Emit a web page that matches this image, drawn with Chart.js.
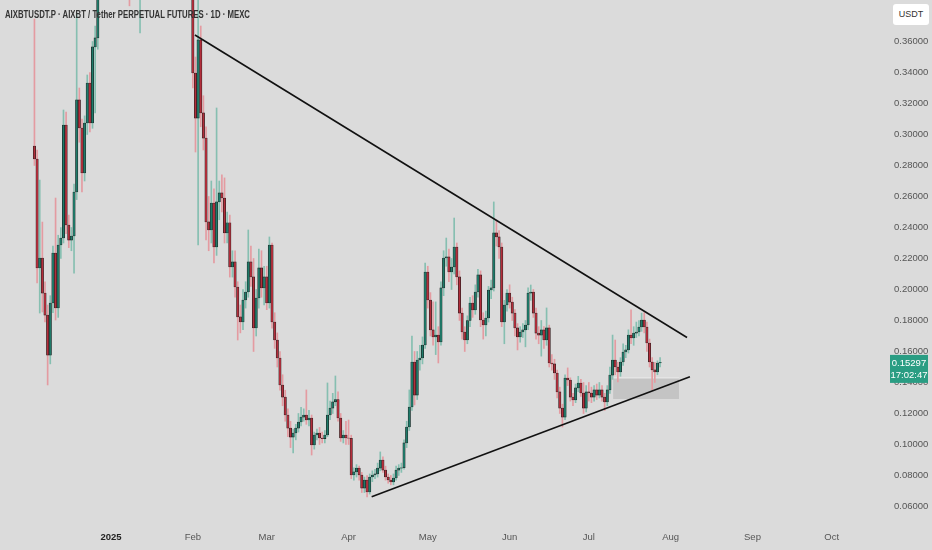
<!DOCTYPE html>
<html>
<head>
<meta charset="utf-8">
<title>AIXBTUSDT.P 1D</title>
<script src="https://cdn.jsdelivr.net/npm/chart.js@4.4.1/dist/chart.umd.min.js"></script>
<style>
  html, body { margin: 0; padding: 0; background: #dbdbdb; }
  #wrap { position: relative; width: 932px; height: 550px; }
  #title { position: absolute; left: 5px; top: 8px; font: bold 10.5px 'Liberation Sans', sans-serif; color: #333; white-space: nowrap; transform-origin: 0 0; }
  #unit { position: absolute; left: 893px; top: 4px; width: 36px; height: 21px; background: #fff; border-radius: 3px; font: 9px 'Liberation Sans', sans-serif; color: #333; text-align: center; line-height: 21px; }
</style>
</head>
<body>
<div id="wrap">
  <canvas id="priceChart"></canvas>
  <div id="title">AIXBTUSDT.P · AIXBT / Tether PERPETUAL FUTURES · 1D · MEXC</div>
  <div id="unit">USDT</div>
</div>

<script>
  // day numbers are counted from 1 Jan 2025 (0 = Jan 1)
  const firstDay = -29

  // daily candles, one value per day, Dec 2024 .. 28 Jul 2025
  const opens = [
    // Dec
    0.2926,0.2842,0.2139,0.2203,0.1977,0.1835,0.1577,0.1913,0.2235,0.1881,0.2287,0.2332,0.3061,0.2416,0.2319,0.2345,0.2629,0.3223,0.3042,0.2752,0.3074,0.3332,0.3074,0.3565,0.3623,
    // Jan (mostly above the visible range)
    0.420,0.465,0.505,0.520,0.540,0.585,0.625,0.660,0.640,0.580,0.520,0.470,0.440,0.500,0.480,0.440,0.470,0.540,0.630,0.760,0.880,0.800,0.760,0.680,0.600,0.640,0.620,0.580,0.560,0.540,0.500,0.460,0.480,0.470,0.450,
    // Feb
    0.4200,0.3397,0.3106,0.3610,0.3139,0.2977,0.2436,0.2384,0.2558,0.2274,0.2565,0.2623,0.2590,0.2365,0.2430,0.2145,0.2178,0.2016,0.1823,0.1790,0.1932,0.1984,0.2178,0.2081,0.1752,0.1945,0.2139,0.2010,
    // Mar
    0.2081,0.1913,0.2287,0.1790,0.1674,0.1558,0.1384,0.1306,0.1190,0.1106,0.1048,0.1074,0.1106,0.1145,0.1177,0.1190,0.1158,0.1171,0.0997,0.1061,0.1074,0.1042,0.1038,0.1061,0.1190,0.1235,0.1275,0.1290,0.1171,0.1042,0.1061,
    // Apr
    0.1042,0.1040,0.0803,0.0823,0.0848,0.0803,0.0719,0.0771,0.0694,0.0790,0.0803,0.0810,0.0848,0.0900,0.0835,0.0790,0.0771,0.0758,0.0784,0.0835,0.0848,0.0850,0.1010,0.1113,0.1242,0.1532,0.1319,0.1545,0.1558,0.1642,
    // May
    0.2113,0.1932,0.1739,0.1694,0.1706,0.1661,0.2010,0.2203,0.2210,0.2113,0.2145,0.2274,0.2081,0.1848,0.1726,0.1674,0.1800,0.1913,0.1868,0.1984,0.2094,0.1803,0.1771,0.1816,0.1997,0.2010,0.2365,0.2339,0.2274,0.1790,0.1900,
    // Jun
    0.1977,0.1919,0.1848,0.1752,0.1694,0.1726,0.1739,0.1771,0.1977,0.1984,0.1848,0.1719,0.1706,0.1739,0.1674,0.1752,0.1526,0.1520,0.1461,0.1339,0.1235,0.1177,0.1429,0.1416,0.1306,0.1287,0.1365,0.1397,0.1332,0.1235,
    // Jul
    0.1339,0.1332,0.1306,0.1352,0.1319,0.1352,0.1306,0.1274,0.1352,0.1448,0.1545,0.1500,0.1468,0.1532,0.1597,0.1610,0.1706,0.1687,0.1719,0.1726,0.1758,0.1803,0.1758,0.1655,0.1532,0.1481,0.1468,0.1526
  ]
  const highs = [
    0.3745,0.2900,0.2706,0.2435,0.2050,0.1900,0.1960,0.2280,0.2590,0.2350,0.2400,0.3158,0.3145,0.2480,0.2400,0.2680,0.3784,0.3300,0.3100,0.3120,0.3384,0.3400,0.3600,0.3700,0.4400,
    0.480,0.520,0.540,0.560,0.600,0.640,0.680,0.700,0.660,0.600,0.560,0.500,0.520,0.540,0.500,0.490,0.560,0.650,0.780,0.940,0.920,0.850,0.800,0.720,0.680,0.700,0.650,0.620,0.600,0.560,0.520,0.500,0.510,0.490,0.460,
    0.4300,0.3500,0.4000,0.3700,0.3250,0.3050,0.2600,0.2700,0.2650,0.3171,0.2700,0.2740,0.2720,0.2500,0.2480,0.2250,0.2250,0.2050,0.1900,0.2000,0.2050,0.2384,0.2280,0.2200,0.2000,0.2260,0.2250,0.2150,
    0.2150,0.2339,0.2300,0.1850,0.1720,0.1600,0.1450,0.1350,0.1230,0.1150,0.1100,0.1130,0.1200,0.1240,0.1230,0.1352,0.1220,0.1190,0.1080,0.1100,0.1110,0.1080,0.1090,0.1397,0.1280,0.1330,0.1442,0.1340,0.1200,0.1090,0.1150,
    0.1158,0.1060,0.0850,0.0870,0.0860,0.0820,0.0790,0.0800,0.0810,0.0830,0.0840,0.0880,0.0952,0.0920,0.0860,0.0810,0.0800,0.0810,0.0860,0.0870,0.0880,0.1030,0.1150,0.1352,0.1700,0.1600,0.1600,0.1640,0.1694,0.2171,
    0.2150,0.1980,0.1920,0.1920,0.1760,0.2050,0.2250,0.2332,0.2260,0.2200,0.2461,0.2300,0.2120,0.1880,0.1760,0.1830,0.1950,0.1960,0.2030,0.2130,0.2120,0.1850,0.1860,0.2020,0.2060,0.2565,0.2448,0.2380,0.2300,0.1930,0.2000,
    0.2030,0.1950,0.1870,0.1780,0.1760,0.1780,0.1800,0.2010,0.2029,0.2000,0.1880,0.1760,0.1800,0.1760,0.1881,0.1770,0.1580,0.1550,0.1480,0.1370,0.1260,0.1450,0.1494,0.1430,0.1330,0.1390,0.1440,0.1420,0.1400,0.1380,
    0.1400,0.1370,0.1380,0.1390,0.1400,0.1380,0.1330,0.1380,0.1500,0.1706,0.1674,0.1530,0.1560,0.1650,0.1640,0.1740,0.1868,0.1760,0.1790,0.1800,0.1848,0.1850,0.1790,0.1680,0.1560,0.1530,0.1540,0.1560
  ]
  const lows = [
    0.2800,0.2042,0.1848,0.1855,0.1790,0.1384,0.1520,0.1850,0.1803,0.1820,0.2200,0.2300,0.2360,0.2270,0.2250,0.2106,0.2580,0.2950,0.2629,0.2700,0.3000,0.3016,0.3040,0.3139,0.3550,
    0.410,0.450,0.480,0.500,0.530,0.570,0.600,0.620,0.560,0.500,0.450,0.383,0.420,0.460,0.420,0.3655,0.450,0.520,0.610,0.740,0.780,0.720,0.640,0.560,0.570,0.600,0.560,0.530,0.520,0.480,0.420,0.430,0.450,0.430,0.410,
    0.3300,0.2887,0.2287,0.3050,0.2900,0.2320,0.2250,0.2300,0.2171,0.2220,0.2450,0.2500,0.2300,0.2300,0.2080,0.2080,0.1950,0.1674,0.1720,0.1740,0.1880,0.1950,0.2020,0.1600,0.1700,0.1880,0.1950,0.1900,
    0.1870,0.1880,0.1750,0.1620,0.1500,0.1350,0.1250,0.1150,0.1050,0.0980,0.0945,0.1030,0.1080,0.1120,0.1150,0.1130,0.1120,0.0932,0.0970,0.1030,0.1000,0.1010,0.1010,0.1050,0.1160,0.1200,0.1250,0.1150,0.1020,0.1010,0.1000,
    0.1000,0.0780,0.0770,0.0790,0.0770,0.0690,0.0690,0.0661,0.0680,0.0760,0.0780,0.0790,0.0830,0.0820,0.0770,0.0750,0.0740,0.0740,0.0770,0.0800,0.0820,0.0840,0.0980,0.1090,0.1220,0.1255,0.1290,0.1480,0.1520,0.1620,
    0.1880,0.1700,0.1640,0.1580,0.1526,0.1640,0.1960,0.2150,0.2050,0.2000,0.2100,0.2030,0.1800,0.1680,0.1600,0.1650,0.1760,0.1820,0.1840,0.1950,0.1760,0.1680,0.1700,0.1790,0.1940,0.1990,0.2280,0.2200,0.1760,0.1650,0.1860,
    0.1880,0.1800,0.1700,0.1610,0.1660,0.1690,0.1630,0.1740,0.1930,0.1820,0.1680,0.1650,0.1570,0.1620,0.1640,0.1500,0.1480,0.1420,0.1300,0.1200,0.1113,0.1160,0.1380,0.1280,0.1250,0.1270,0.1340,0.1310,0.1200,0.1210,
    0.1280,0.1270,0.1280,0.1290,0.1300,0.1280,0.1220,0.1250,0.1330,0.1420,0.1450,0.1403,0.1440,0.1510,0.1560,0.1590,0.1650,0.1640,0.1690,0.1700,0.1730,0.1720,0.1600,0.1500,0.1352,0.1400,0.1450,0.1500
  ]
  const closes = [
    0.2842,0.2139,0.2203,0.1977,0.1835,0.1577,0.1913,0.2235,0.1881,0.2287,0.2332,0.3061,0.2416,0.2319,0.2345,0.2629,0.3223,0.3042,0.2752,0.3074,0.3332,0.3074,0.3565,0.3623,0.4200,
    0.465,0.505,0.520,0.540,0.585,0.625,0.660,0.640,0.580,0.520,0.470,0.440,0.500,0.480,0.440,0.470,0.540,0.630,0.760,0.880,0.800,0.760,0.680,0.600,0.640,0.620,0.580,0.560,0.540,0.500,0.460,0.480,0.470,0.450,0.420,
    0.3397,0.3106,0.3610,0.3139,0.2977,0.2436,0.2384,0.2558,0.2274,0.2565,0.2623,0.2590,0.2365,0.2430,0.2145,0.2178,0.2016,0.1823,0.1790,0.1932,0.1984,0.2178,0.2081,0.1752,0.1945,0.2139,0.2010,0.2081,
    0.1913,0.2287,0.1790,0.1674,0.1558,0.1384,0.1306,0.1190,0.1106,0.1048,0.1074,0.1106,0.1145,0.1177,0.1190,0.1158,0.1171,0.0997,0.1061,0.1074,0.1042,0.1038,0.1061,0.1190,0.1235,0.1275,0.1290,0.1171,0.1042,0.1061,0.1042,
    0.1040,0.0803,0.0823,0.0848,0.0803,0.0719,0.0771,0.0694,0.0790,0.0803,0.0810,0.0848,0.0900,0.0835,0.0790,0.0771,0.0758,0.0784,0.0835,0.0848,0.0850,0.1010,0.1113,0.1242,0.1532,0.1319,0.1545,0.1558,0.1642,0.2113,
    0.1932,0.1739,0.1694,0.1706,0.1661,0.2010,0.2203,0.2210,0.2113,0.2145,0.2274,0.2081,0.1848,0.1726,0.1674,0.1800,0.1913,0.1868,0.1984,0.2094,0.1803,0.1771,0.1816,0.1997,0.2010,0.2365,0.2339,0.2274,0.1790,0.1900,0.1977,
    0.1919,0.1848,0.1752,0.1694,0.1726,0.1739,0.1771,0.1977,0.1984,0.1848,0.1719,0.1706,0.1739,0.1674,0.1752,0.1526,0.1520,0.1461,0.1339,0.1235,0.1177,0.1429,0.1416,0.1306,0.1287,0.1365,0.1397,0.1332,0.1235,0.1339,
    0.1332,0.1306,0.1352,0.1319,0.1352,0.1306,0.1274,0.1352,0.1448,0.1545,0.1500,0.1468,0.1532,0.1597,0.1610,0.1706,0.1687,0.1719,0.1726,0.1758,0.1803,0.1758,0.1655,0.1532,0.1481,0.1468,0.1526,0.15297
  ]

  // time axis
  const monthDays = [0, 31, 59, 90, 120, 151, 181, 212, 243, 273]
  const monthLabels = ['2025', 'Feb', 'Mar', 'Apr', 'May', 'Jun', 'Jul', 'Aug', 'Sep', 'Oct']
  const xMin = -42.05
  const xMax = 293.2

  // price axis
  const priceTicks = [0.06, 0.08, 0.10, 0.12, 0.14, 0.16, 0.18, 0.20, 0.22, 0.24, 0.26, 0.28, 0.30, 0.32, 0.34, 0.36]
  const yMin = 0.04806
  const yMax = 0.38677

  // drawings: triangle lines and the support zone
  const upperLineDays = [31.8, 218.2]
  const upperLinePrices = [0.3642, 0.1690]
  const lowerLineDays = [98.75, 219.3]
  const lowerLinePrices = [0.0663, 0.1437]
  const zoneDays = [190.2, 215.2]
  const zonePrices = [0.1294, 0.1429]

  const countdown = '17:02:47'

  const upBody = '#1f7a69'
  const downBody = '#b22e3b'
  const upWick = '#86bfb1'
  const downWick = '#e49ba1'

  const days = closes.map((c, i) => firstDay + i)
  const up = days.map((d, i) => closes[i] >= opens[i])

  const lastPriceTag = {
    id: 'lastPriceTag',
    afterDraw(chart) {
      const c = chart.ctx
      const last = closes[closes.length - 1]
      const py = chart.scales.y.getPixelForValue(last)
      const left = chart.chartArea.right + 5
      c.save()
      c.fillStyle = '#2a9d83'
      c.fillRect(left, py - 7.5, 38, 28)
      c.fillStyle = '#ffffff'
      c.font = '9.5px "Liberation Sans", sans-serif'
      c.textAlign = 'center'
      c.textBaseline = 'middle'
      c.fillText(last.toFixed(5), left + 19, py + 0.5)
      c.fillText(countdown, left + 19, py + 12.5)
      c.restore()
    }
  }

  // axes should not reserve room for half-labels at their ends
  function noEdgePadding(s) {
    s.paddingTop = 0
    s.paddingBottom = 0
    s.paddingLeft = 0
    s.paddingRight = 0
  }

  new Chart(document.getElementById('priceChart'), {
    type: 'bar',
    data: {
      datasets: [
        {
          type: 'line',
          data: upperLineDays.map((d, i) => ({x: d, y: upperLinePrices[i]})),
          borderColor: '#111111',
          borderWidth: 1.6,
          pointRadius: 0,
          order: 1
        },
        {
          type: 'line',
          data: lowerLineDays.map((d, i) => ({x: d, y: lowerLinePrices[i]})),
          borderColor: '#111111',
          borderWidth: 1.6,
          pointRadius: 0,
          order: 1
        },
        {
          data: days.map((d, i) => ({x: d, y: [opens[i], closes[i]]})),
          backgroundColor: up.map(u => u ? upBody : downBody),
          borderColor: '#1c1c1c',
          borderWidth: 0.6,
          borderSkipped: false,
          barThickness: 2.4,
          grouped: false,
          order: 2
        },
        {
          data: days.map((d, i) => ({x: d, y: [lows[i], highs[i]]})),
          backgroundColor: up.map(u => u ? upWick : downWick),
          barThickness: 1,
          grouped: false,
          order: 3
        },
        {
          type: 'line',
          data: zoneDays.map(d => ({x: d, y: zonePrices[1]})),
          fill: {value: zonePrices[0]},
          backgroundColor: 'rgba(150,150,150,0.32)',
          borderColor: 'rgba(240,240,240,0.8)',
          borderWidth: 1,
          pointRadius: 0,
          order: 4
        }
      ]
    },
    options: {
      responsive: true,
      maintainAspectRatio: false,
      animation: false,
      layout: {padding: 0},
      plugins: {legend: {display: false}, tooltip: {enabled: false}},
      scales: {
        x: {
          type: 'linear',
          min: xMin,
          max: xMax,
          offset: false,
          grid: {display: false, drawTicks: false},
          border: {display: false},
          afterBuildTicks: s => { s.ticks = monthDays.map(v => ({value: v})) },
          afterFit: s => { s.height = 25; noEdgePadding(s) },
          ticks: {
            autoSkip: false,
            maxRotation: 0,
            padding: 7,
            color: c => c.index === 0 ? '#222' : '#555',
            font: c => ({family: 'Liberation Sans', size: 9.5, weight: c.index === 0 ? 'bold' : 'normal'}),
            callback: (v, i) => monthLabels[i]
          }
        },
        y: {
          type: 'linear',
          position: 'right',
          min: yMin,
          max: yMax,
          grid: {display: false, drawTicks: false},
          border: {display: false},
          afterBuildTicks: s => { s.ticks = priceTicks.map(v => ({value: v})) },
          afterFit: s => { s.width = 47; noEdgePadding(s) },
          ticks: {
            padding: 9,
            color: '#555',
            font: {family: 'Liberation Sans', size: 9.5},
            callback: v => v.toFixed(5)
          }
        }
      }
    },
    plugins: [lastPriceTag]
  })

  // the source header is set in a narrow face, squeeze ours to the same width
  const title = document.getElementById('title')
  title.style.transform = 'scaleX(' + (245 / title.getBoundingClientRect().width) + ')'
</script>
</body>
</html>
